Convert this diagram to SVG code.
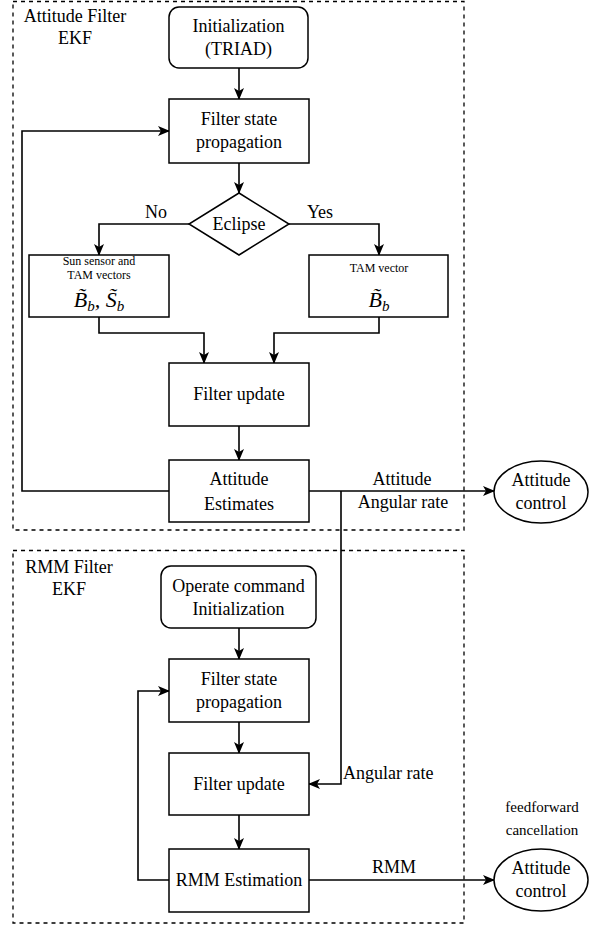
<svg xmlns="http://www.w3.org/2000/svg" width="591" height="928" viewBox="0 0 591 928">
<style>
text{font-family:"Liberation Serif","Times New Roman",serif;fill:#000;text-anchor:middle}
.t{font-size:18px}
.s{font-size:12px}
.f{font-size:15px}
.lt{text-anchor:start}
.m{font-size:22px;font-style:italic}
.node{fill:#fff;stroke:#000;stroke-width:1.5}
.grp{fill:none;stroke:#000;stroke-width:1.3;stroke-dasharray:4 4}
.c{fill:none;stroke:#000;stroke-width:1.6;marker-end:url(#ah)}
</style>
<defs>
<marker id="ah" viewBox="0 0 12 10" refX="11" refY="5" markerWidth="12" markerHeight="10" markerUnits="userSpaceOnUse" orient="auto">
<path d="M0,0 L12,5 L0,10 L3,5 Z" fill="#000"/>
</marker>
</defs>
<rect width="591" height="928" fill="#fff"/>
<g id="group-attitude">
<rect class="grp" x="13" y="1.5" width="451" height="528.5"/>
<text class="t" x="75" y="22">Attitude Filter</text>
<text class="t" x="75" y="44">EKF</text>
</g>
<g id="group-rmm">
<rect class="grp" x="13" y="550.5" width="451" height="372.5"/>
<text class="t" x="69" y="573">RMM Filter</text>
<text class="t" x="69" y="595">EKF</text>
</g>
<g id="connectors">
<path class="c" d="M239,68 V99"/>
<path class="c" d="M239,163 V193"/>
<path class="c" d="M189,224 H99 V255"/>
<path class="c" d="M289,224 H379 V255"/>
<path class="c" d="M99,317 V333 H204 V363"/>
<path class="c" d="M379,317 V333 H274 V363"/>
<path class="c" d="M239,426 V460"/>
<path class="c" d="M169,491 H22 V131 H169"/>
<path class="c" d="M309,491 H494"/>
<path class="c" d="M341,491 V784 H309"/>
<path class="c" d="M239,628 V659"/>
<path class="c" d="M239,722 V753"/>
<path class="c" d="M239,815 V849"/>
<path class="c" d="M169,880 H138 V691 H169"/>
<path class="c" d="M309,880 H494"/>
<text class="t" x="156" y="218">No</text>
<text class="t" x="320" y="218">Yes</text>
<text class="t" x="402" y="485">Attitude</text>
<text class="t" x="403" y="508">Angular rate</text>
<text class="t lt" x="343" y="779">Angular rate</text>
<text class="t" x="394" y="873">RMM</text>
</g>
<g id="init-triad">
<rect class="node" x="169" y="7" width="139" height="61" rx="10"/>
<text class="t" x="238.5" y="32">Initialization</text>
<text class="t" x="238.5" y="55">(TRIAD)</text>
</g>
<g id="filter-prop-1">
<rect class="node" x="169" y="99" width="140" height="64"/>
<text class="t" x="239" y="125">Filter state</text>
<text class="t" x="239" y="148">propagation</text>
</g>
<g id="eclipse">
<polygon class="node" points="239,193 289,224 239,255 189,224"/>
<text class="t" x="239" y="230">Eclipse</text>
</g>
<g id="sun-tam">
<rect class="node" x="29" y="255" width="140" height="62"/>
<text class="s" x="99" y="265">Sun sensor and</text>
<text class="s" x="99" y="279">TAM vectors</text>
<text class="m" x="99" y="307">B&#x303;<tspan font-size="15" dy="4">b</tspan><tspan dy="-4">, S&#x303;</tspan><tspan font-size="15" dy="4">b</tspan></text>
</g>
<g id="tam">
<rect class="node" x="309" y="255" width="139" height="62"/>
<text class="s" x="379" y="272">TAM vector</text>
<text class="m" x="379" y="307">B&#x303;<tspan font-size="15" dy="4">b</tspan></text>
</g>
<g id="filter-update-1">
<rect class="node" x="169" y="363" width="140" height="63"/>
<text class="t" x="239" y="400">Filter update</text>
</g>
<g id="attitude-estimates">
<rect class="node" x="169" y="460" width="140" height="62"/>
<text class="t" x="239" y="485">Attitude</text>
<text class="t" x="239" y="510">Estimates</text>
</g>
<g id="attitude-control-1">
<ellipse class="node" cx="541" cy="492" rx="47" ry="31"/>
<text class="t" x="541" y="486">Attitude</text>
<text class="t" x="541" y="509">control</text>
</g>
<g id="init-operate">
<rect class="node" x="161" y="566" width="155" height="62" rx="10"/>
<text class="t" x="238.5" y="592">Operate command</text>
<text class="t" x="238.5" y="615">Initialization</text>
</g>
<g id="filter-prop-2">
<rect class="node" x="169" y="659" width="140" height="63"/>
<text class="t" x="239" y="685">Filter state</text>
<text class="t" x="239" y="708">propagation</text>
</g>
<g id="filter-update-2">
<rect class="node" x="169" y="753" width="140" height="62"/>
<text class="t" x="239" y="790">Filter update</text>
</g>
<g id="rmm-estimation">
<rect class="node" x="169" y="849" width="140" height="63"/>
<text class="t" x="239" y="886">RMM Estimation</text>
</g>
<g id="attitude-control-2">
<ellipse class="node" cx="541" cy="880" rx="47" ry="31"/>
<text class="t" x="541" y="874">Attitude</text>
<text class="t" x="541" y="897">control</text>
<text class="f" x="542" y="812">feedforward</text>
<text class="f" x="542" y="835">cancellation</text>
</g>
</svg>
